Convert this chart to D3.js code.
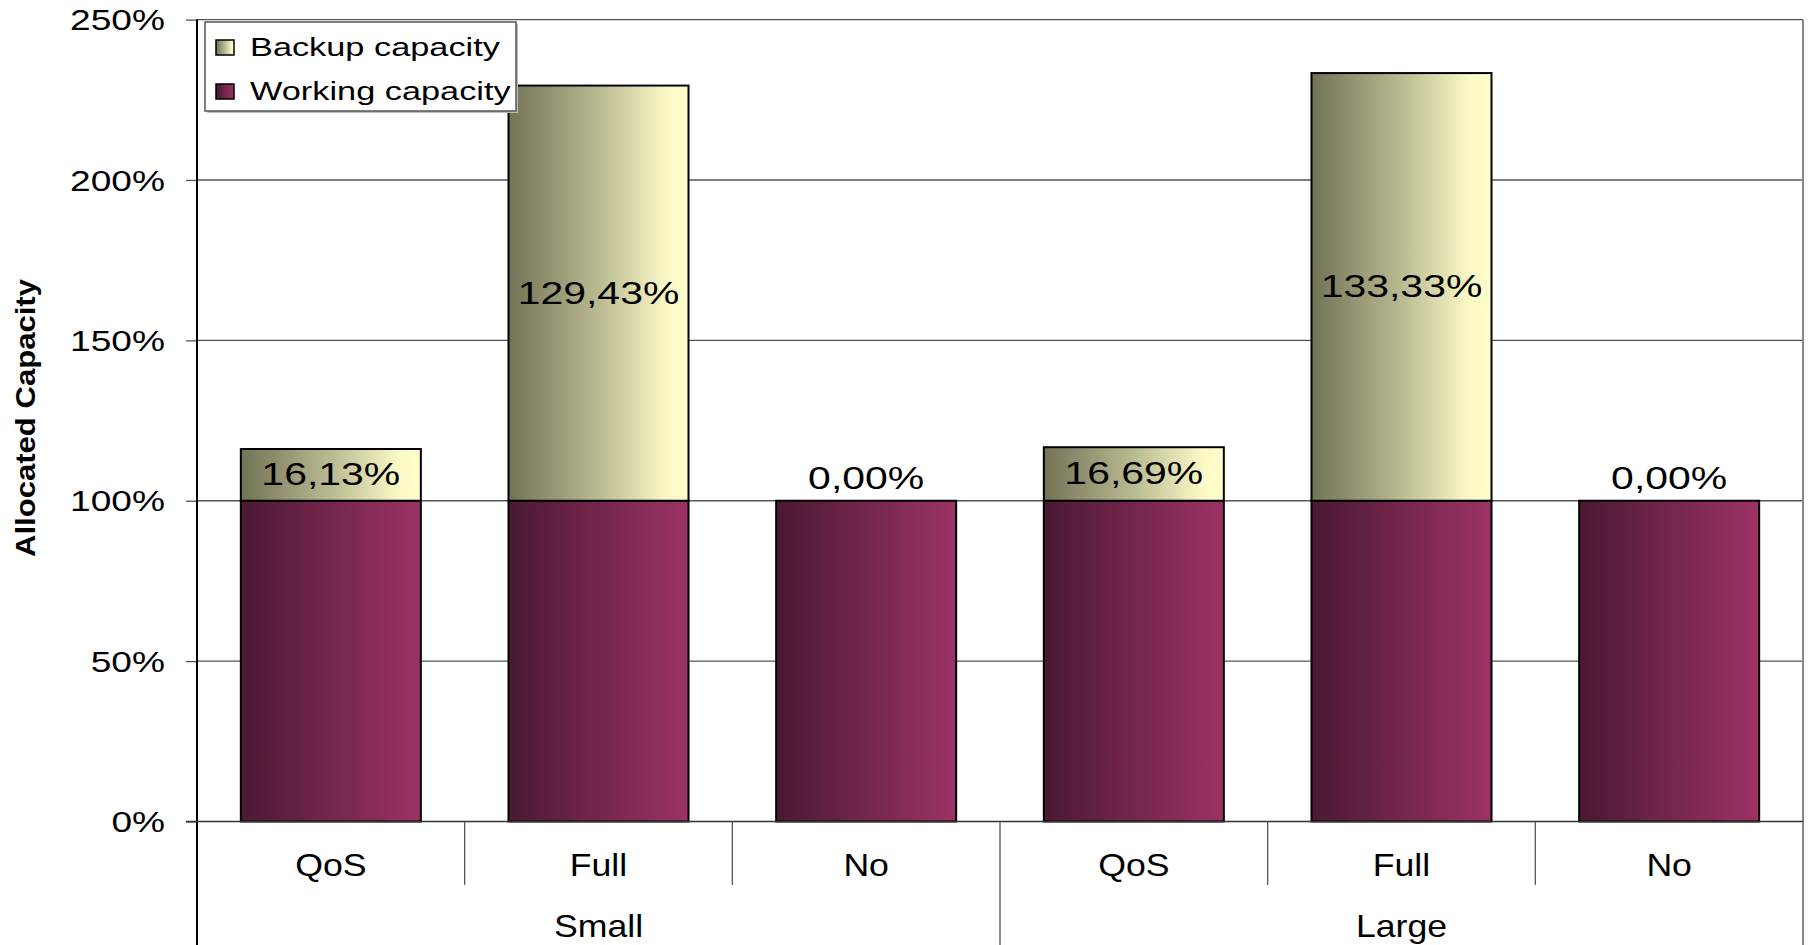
<!DOCTYPE html>
<html>
<head>
<meta charset="utf-8">
<script src="https://cdn.jsdelivr.net/npm/d3@7"></script>
<style>
  body { margin: 0; background: #fff; }
  svg { display: block; font-family: "Liberation Sans", Arial, sans-serif; }
</style>
</head>
<body>
<div id="chart"></div>
<script>
// data
const groups = ['Small', 'Large'];
const schemes = ['QoS', 'Full', 'No'];
const working = [100, 100, 100, 100, 100, 100];
const backup = [16.13, 129.43, 0, 16.69, 133.33, 0];
const yTicks = [0, 50, 100, 150, 200, 250];
const seriesNames = ['Backup capacity', 'Working capacity'];

const W = 1809, H = 945;
const plotLeft = 197, plotRight = 1803, plotTop = 19.6, plotBase = 821.5;

const svg = d3.select('#chart').append('svg').attr('width', W).attr('height', H);

const rows = [];
groups.forEach((g, gi) => schemes.forEach((s, si) => {
  const i = gi * schemes.length + si;
  rows.push({ key: g + '-' + s, group: g, scheme: s, working: working[i], backup: backup[i] });
}));

const x = d3.scaleBand().domain(rows.map((d) => d.key)).range([plotLeft, plotRight])
  .paddingInner(0.3275).paddingOuter(0.3275 / 2);
const y = d3.scaleLinear().domain([0, 250]).range([plotBase, plotTop]);

const stack = d3.stack().keys(['working', 'backup']);
const series = stack(rows);

// gradients
const defs = svg.append('defs');
function grad(id, stops) {
  const g = defs.append('linearGradient').attr('id', id).attr('x1', 0).attr('x2', 1).attr('y1', 0).attr('y2', 0);
  stops.forEach(([o, c]) => g.append('stop').attr('offset', o).attr('stop-color', c));
}
grad('gWork', [[0, '#4a1932'], [1, '#9c3365']]);
grad('gBack', [[0, '#727256'], [0.5, '#baba92'], [0.88, '#fbf9c6'], [1, '#ffffcc']]);
const fills = { working: 'url(#gWork)', backup: 'url(#gBack)' };

// gridlines
svg.append('g').selectAll('line').data(yTicks.slice(1)).join('line')
  .attr('x1', plotLeft).attr('x2', plotRight)
  .attr('y1', (d) => y(d)).attr('y2', (d) => y(d))
  .attr('stroke', '#555').attr('stroke-width', 1.3);

// right border
svg.append('line').attr('x1', plotRight).attr('x2', plotRight).attr('y1', plotTop).attr('y2', H)
  .attr('stroke', '#888').attr('stroke-width', 2);

// bars
svg.append('g').selectAll('g').data(series).join('g')
  .attr('fill', (s) => fills[s.key])
  .selectAll('rect').data((s) => s).join('rect')
  .attr('x', (d) => x(d.data.key))
  .attr('width', x.bandwidth())
  .attr('y', (d) => y(d[1]))
  .attr('height', (d) => y(d[0]) - y(d[1]))
  .attr('stroke', '#000').attr('stroke-width', 2);

// data labels for backup
const loc = d3.formatLocale({ decimal: ',', thousands: '.', grouping: [3], currency: ['', ''] });
const fmt = loc.format('.2f');
svg.append('g').selectAll('text').data(series[1]).join('text')
  .attr('transform', (d) => {
    const cx = x(d.data.key) + x.bandwidth() / 2;
    const yy = d[1] - d[0] > 0 ? (y(d[0]) + y(d[1])) / 2 + 10.5 : y(d[1]) - 12;
    return `translate(${cx},${yy}) scale(1.28,1)`;
  })
  .attr('text-anchor', 'middle').attr('font-size', 32).attr('fill', '#000')
  .text((d) => fmt(d.data.backup) + '%');

// y axis
const yAxis = svg.append('g').attr('transform', `translate(${plotLeft},0)`)
  .call(d3.axisLeft(y).tickValues(yTicks).tickSize(11).tickFormat((d) => d + '%'));
yAxis.select('.domain').remove();
yAxis.selectAll('.tick line').attr('stroke', '#555').attr('stroke-width', 1.3);
yAxis.selectAll('.tick text')
  .attr('x', -32 / 1.28).attr('dy', '0.35em')
  .attr('transform', 'scale(1.28,1)')
  .attr('font-size', 29).attr('fill', '#000');
yAxis.attr('font-family', null).attr('font-size', null);
svg.append('line').attr('x1', plotLeft).attr('x2', plotLeft).attr('y1', plotTop).attr('y2', H)
  .attr('stroke', '#000').attr('stroke-width', 2);

// category axis
svg.append('line').attr('x1', plotLeft - 11).attr('x2', plotRight).attr('y1', plotBase).attr('y2', plotBase)
  .attr('stroke', '#333').attr('stroke-width', 1.5);
const step = x.step();
svg.append('g').selectAll('line').data(rows.slice(1)).join('line')
  .attr('x1', (d) => x(d.key) - step * x.paddingInner() / 2)
  .attr('x2', (d) => x(d.key) - step * x.paddingInner() / 2)
  .attr('y1', plotBase)
  .attr('y2', (d) => d.scheme === schemes[0] ? H : 885)
  .attr('stroke', '#555').attr('stroke-width', 1.3);

svg.append('g').selectAll('text').data(rows).join('text')
  .attr('transform', (d) => `translate(${x(d.key) + x.bandwidth() / 2},876) scale(1.15,1)`)
  .attr('text-anchor', 'middle').attr('font-size', 31)
  .text((d) => d.scheme);

svg.append('g').selectAll('text').data(groups).join('text')
  .attr('transform', (g) => {
    const ks = rows.filter((d) => d.group === g).map((d) => d.key);
    const x0 = x(ks[0]) - step * x.paddingInner() / 2;
    const x1 = x(ks[ks.length - 1]) + x.bandwidth() + step * x.paddingInner() / 2;
    return `translate(${(x0 + x1) / 2},937) scale(1.15,1)`;
  })
  .attr('text-anchor', 'middle').attr('font-size', 31)
  .text((g) => g);

// y title
svg.append('text')
  .attr('transform', 'translate(35,418) rotate(-90)')
  .attr('text-anchor', 'middle').attr('font-size', 27).attr('font-weight', 'bold')
  .attr('textLength', 278).attr('lengthAdjust', 'spacingAndGlyphs')
  .text('Allocated Capacity');

// legend
const lg = svg.append('g').attr('transform', 'translate(205,22)');
lg.append('rect').attr('x', 2).attr('y', 2).attr('width', 311).attr('height', 89).attr('fill', '#bbb');
lg.append('rect').attr('width', 311).attr('height', 89).attr('fill', '#fff')
  .attr('stroke', '#555').attr('stroke-width', 1.5);
const li = lg.selectAll('g').data(seriesNames).join('g')
  .attr('transform', (d, i) => `translate(0,${i * 44})`);
li.append('rect').attr('x', 11).attr('y', 18).attr('width', 18).attr('height', 15)
  .attr('fill', (d, i) => i === 0 ? fills.backup : fills.working)
  .attr('stroke', '#000').attr('stroke-width', 1.5);
li.append('text').attr('transform', 'translate(45,34) scale(1.32,1)')
  .attr('font-size', 26).text((d) => d);
</script>
</body>
</html>
